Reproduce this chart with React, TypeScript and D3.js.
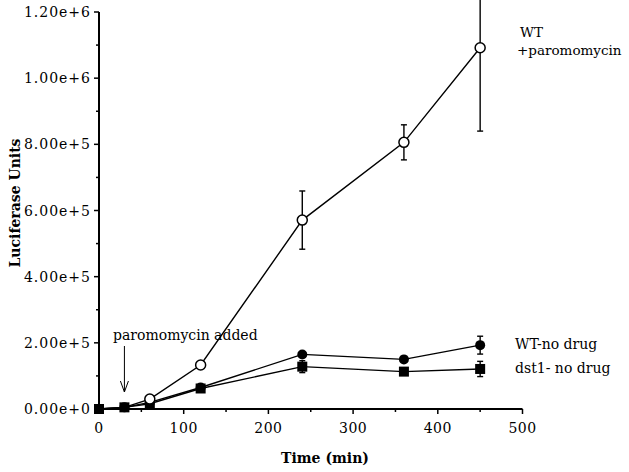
import React from "react";
import * as d3 from "d3";

const times = [0, 30, 60, 120, 240, 360, 450];
const wtParo = [0, 5000, 30000, 133000, 571000, 806000, 1092000];
const wtParoErr = [0, 0, 0, 0, 88000, 53000, 252000];
const wtNoDrug = [0, 5000, 20000, 65000, 165000, 150000, 193000];
const wtNoDrugErr = [0, 0, 0, 0, 8000, 0, 27000];
const dst1NoDrug = [0, 5000, 16000, 62000, 128000, 113000, 121000];
const dst1NoDrugErr = [0, 0, 0, 0, 18000, 8000, 23000];
const xTicks = [0, 100, 200, 300, 400, 500];
const yTicks = [0, 200000, 400000, 600000, 800000, 1000000, 1200000];
const yTickLabels = ["0.00e+0", "2.00e+5", "4.00e+5", "6.00e+5", "8.00e+5", "1.00e+6", "1.20e+6"];

const W = 629, H = 472;
const font = "'DejaVu Serif', serif";

export default function App() {
  const x = d3.scaleLinear().domain([0, 500]).range([99, 522.5]);
  const y = d3.scaleLinear().domain([0, 1200000]).range([409, 12]);
  const line = d3.line<number>().x((_, i) => x(times[i])).y((d) => y(d));
  const series = [
    { vals: wtParo, err: wtParoErr },
    { vals: wtNoDrug, err: wtNoDrugErr },
    { vals: dst1NoDrug, err: dst1NoDrugErr },
  ];
  const xMinor = d3.range(50, 500, 100);
  const yMinor = d3.range(100000, 1200000, 200000);
  return (
    <svg width={W} height={H} style={{ position: "absolute", left: 0, top: 0, background: "#fff" }}>
      <rect width={W} height={H} fill="#fff" />
      {/* axes */}
      <line x1={x(0)} x2={x(500)} y1={y(0)} y2={y(0)} stroke="#000" strokeWidth={2} />
      <line x1={x(0)} x2={x(0)} y1={y(0)} y2={y(1200000)} stroke="#000" strokeWidth={2} />
      {xTicks.map((t) => (
        <g key={"xt" + t}>
          <line x1={x(t)} x2={x(t)} y1={y(0)} y2={y(0) + 5} stroke="#000" strokeWidth={1.5} />
          <text x={x(t)} y={433} textAnchor="middle" fontFamily={font} fontSize={14} letterSpacing={0.5}>{t}</text>
        </g>
      ))}
      {xMinor.map((t) => (
        <line key={"xm" + t} x1={x(t)} x2={x(t)} y1={y(0)} y2={y(0) + 3} stroke="#000" strokeWidth={1.5} />
      ))}
      {yTicks.map((t, i) => (
        <g key={"yt" + t}>
          <line x1={x(0) - 5} x2={x(0)} y1={y(t)} y2={y(t)} stroke="#000" strokeWidth={1.5} />
          <text x={91} y={y(t) + 5} textAnchor="end" fontFamily={font} fontSize={14} letterSpacing={1}>{yTickLabels[i]}</text>
        </g>
      ))}
      {yMinor.map((t) => (
        <line key={"ym" + t} x1={x(0) - 3} x2={x(0)} y1={y(t)} y2={y(t)} stroke="#000" strokeWidth={1.5} />
      ))}
      <text x={325} y={463} textAnchor="middle" fontFamily={font} fontSize={14} fontWeight="bold">Time (min)</text>
      <text transform={`translate(20,203) rotate(-90)`} textAnchor="middle" fontFamily={font} fontSize={14} fontWeight="bold">Luciferase Units</text>
      {/* lines */}
      {series.map((s, si) => (
        <path key={"l" + si} d={line(s.vals) || ""} fill="none" stroke="#000" strokeWidth={1.4} />
      ))}
      {/* error bars */}
      {series.map((s, si) =>
        s.vals.map((v, i) =>
          s.err[i] > 0 ? (
            <g key={"e" + si + "-" + i} stroke="#000" strokeWidth={1.4}>
              <line x1={x(times[i])} x2={x(times[i])} y1={y(v + s.err[i])} y2={y(v - s.err[i])} />
              <line x1={x(times[i]) - 3} x2={x(times[i]) + 3} y1={y(v + s.err[i])} y2={y(v + s.err[i])} />
              <line x1={x(times[i]) - 3} x2={x(times[i]) + 3} y1={y(v - s.err[i])} y2={y(v - s.err[i])} />
            </g>
          ) : null
        )
      )}
      {/* markers */}
      {dst1NoDrug.map((v, i) => (
        <rect key={"sq" + i} x={x(times[i]) - 5} y={y(v) - 5} width={10} height={10} fill="#000" />
      ))}
      {wtNoDrug.map((v, i) => (
        <circle key={"fc" + i} cx={x(times[i])} cy={y(v)} r={5} fill="#000" />
      ))}
      {wtParo.map((v, i) =>
        i < 2 ? null : (
          <circle key={"oc" + i} cx={x(times[i])} cy={y(v)} r={5} fill="#fff" stroke="#000" strokeWidth={1.5} />
        )
      )}
      {/* annotations */}
      <text x={520} y={37} fontFamily={font} fontSize={13.5}>WT</text>
      <text x={517} y={55} fontFamily={font} fontSize={13.5}>+paromomycin</text>
      <text x={515} y={349} fontFamily={font} fontSize={14}>WT-no drug</text>
      <text x={515} y={373} fontFamily={font} fontSize={14}>dst1- no drug</text>
      <text x={113} y={340} fontFamily={font} fontSize={14}>paromomycin added</text>
      <line x1={x(30)} x2={x(30)} y1={346} y2={392} stroke="#000" strokeWidth={1} />
      <path d={`M${x(30) - 4},${381} L${x(30)},${392} L${x(30) + 4},${381}`} fill="none" stroke="#000" strokeWidth={1} />
    </svg>
  );
}
